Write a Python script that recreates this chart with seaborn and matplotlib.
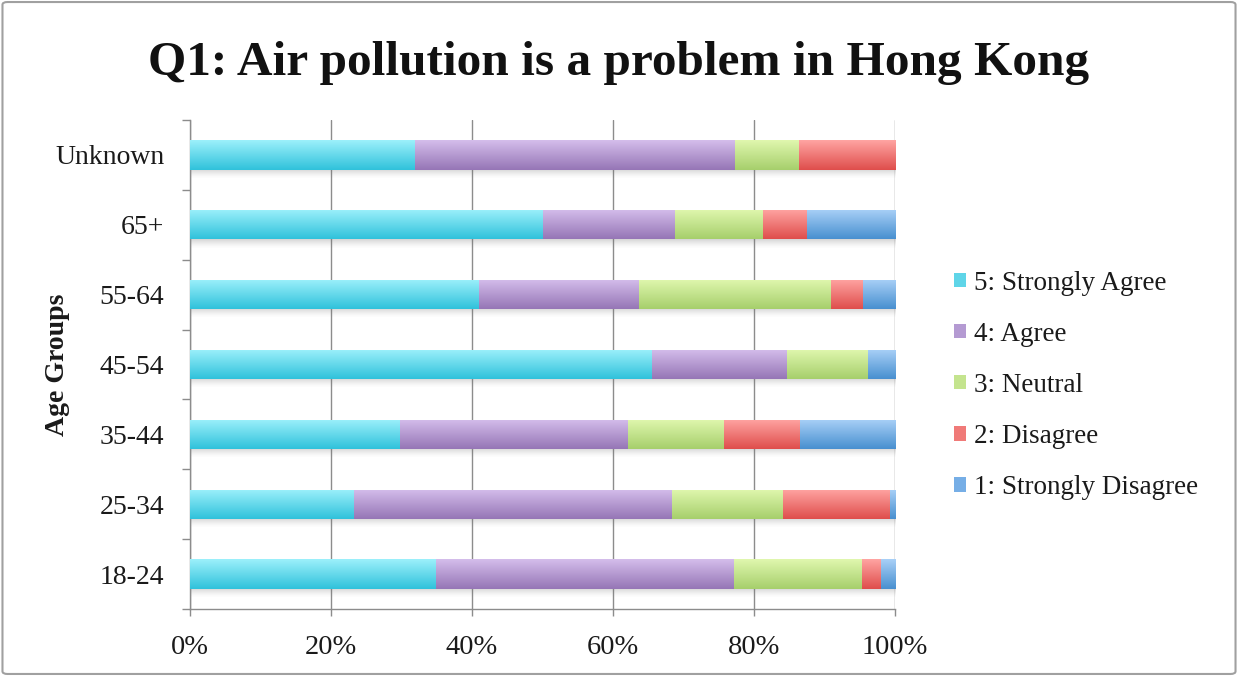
import numpy as np
import pandas as pd
import matplotlib
matplotlib.use("Agg")
import matplotlib.pyplot as plt
from matplotlib.colors import LinearSegmentedColormap
from matplotlib.patches import FancyBboxPatch
import seaborn as sns

# Survey responses (% of each age group)
age_groups = ["Unknown", "65+", "55-64", "45-54", "35-44", "25-34", "18-24"]
strongly_agree = [31.8, 50.0, 40.9, 65.4, 29.7, 23.2, 34.8]
agree = [45.4, 18.75, 22.7, 19.2, 32.4, 45.1, 42.3]
neutral = [9.1, 12.5, 27.3, 11.5, 13.5, 15.8, 18.1]
disagree = [13.7, 6.25, 4.5, 0.0, 10.8, 15.1, 2.8]
strongly_disagree = [0.0, 12.5, 4.6, 3.9, 13.6, 0.8, 2.0]

responses = ["5: Strongly Agree", "4: Agree", "3: Neutral", "2: Disagree", "1: Strongly Disagree"]
series = [strongly_agree, agree, neutral, disagree, strongly_disagree]

# (top, bottom) of each bar's vertical gradient
grad_colors = [("#9cf0fb", "#30c2db"),
               ("#d4bdeb", "#9676b6"),
               ("#e0f7ae", "#a6cf6c"),
               ("#ffa4a2", "#df4e4c"),
               ("#a9d0f7", "#4890d0")]
mid_colors = ["#5fd5e8", "#b49ad2", "#c4e48e", "#f07a78", "#76aee6"]

sns.set_theme(style="white")
plt.rcParams["font.family"] = ["Liberation Serif", "DejaVu Serif"]

fig = plt.figure(figsize=(12.38, 6.76), dpi=100)
ax = fig.add_axes([0.1535, 0.099, 0.5695, 0.7235])

df = pd.DataFrame({"age": age_groups})
cum = np.zeros(len(age_groups))
cums = []
for vals in series:
    cum = cum + np.array(vals)
    cums.append(cum.copy())

bar_width = 0.42

# Soft drop shadow under each full bar
shadow = np.zeros((32, 1, 4))
shadow[..., :3] = 0.45
shadow[:, 0, 3] = np.linspace(0.45, 0.0, 32) ** 1.5
for i, total in enumerate(cums[-1]):
    ax.imshow(shadow, aspect="auto", origin="upper",
              extent=(0, total, i + bar_width / 2 + 0.13, i + bar_width / 2),
              zorder=2, interpolation="bilinear")

# Stacked bars: draw cumulative totals from the widest down so each
# segment shows from the previous boundary to its own total.
for k in range(len(series) - 1, -1, -1):
    df["value"] = cums[k]
    n_before = len(ax.patches)
    sns.barplot(data=df, x="value", y="age", orient="h", color=mid_colors[k],
                saturation=1, width=bar_width, edgecolor="none", linewidth=0, ax=ax)
    new_patches = ax.patches[n_before:]
    z = 3 + 2 * (len(series) - k)
    cmap = LinearSegmentedColormap.from_list(f"g{k}", [grad_colors[k][0], grad_colors[k][1]])
    grad = np.linspace(0, 1, 64).reshape(-1, 1)
    for p in new_patches:
        p.set_zorder(z)
        x0, y0 = p.get_x(), p.get_y()
        w, h = p.get_width(), p.get_height()
        if w <= 0:
            continue
        im = ax.imshow(grad, cmap=cmap, aspect="auto", origin="upper",
                       extent=(x0, x0 + w, y0 + h, y0), zorder=z + 1,
                       interpolation="bilinear")
        im.set_clip_path(p)

ax.set_xlim(0, 100)
ax.set_ylim(len(age_groups) - 0.5, -0.5)

# Axis styling
ax.set_xticks(np.arange(0, 101, 20))
ax.set_xticklabels([f"{t}%" for t in range(0, 101, 20)])
ax.xaxis.grid(True, color="#8c8c8c", linewidth=1.0, zorder=0)
ax.set_axisbelow(True)
ax.set_yticks(np.arange(-0.5, len(age_groups), 1.0), minor=False)
ax.set_yticklabels([])
ax.set_yticks(np.arange(len(age_groups)), minor=True)
ax.set_yticklabels(age_groups, minor=True)
ax.tick_params(axis="y", which="major", length=6, width=1, color="#8c8c8c", direction="out", left=True)
ax.tick_params(axis="y", which="minor", length=0, labelsize=20, labelcolor="#1a1a1a", pad=18.5)
ax.tick_params(axis="x", which="major", length=5, width=1, color="#8c8c8c", direction="out", bottom=True,
               labelsize=20.5, labelcolor="#1a1a1a", pad=14)
for side in ["top", "right"]:
    ax.spines[side].set_visible(False)
for side in ["left", "bottom"]:
    ax.spines[side].set_color("#8c8c8c")
    ax.spines[side].set_linewidth(1.0)

ax.set_xlabel("")
ax.set_ylabel("Age Groups", fontsize=20, fontweight="bold", color="#1a1a1a")
ax.yaxis.set_label_coords(-0.170, 0.5)

fig.suptitle("Q1: Air pollution is a problem in Hong Kong", fontsize=35.5, fontweight="bold",
             y=0.94, color="#111111")

# Legend
handles = [plt.Rectangle((0, 0), 1, 1, facecolor=c, edgecolor="none") for c in mid_colors]
fig.legend(handles, responses, loc="center left", bbox_to_anchor=(0.751, 0.43),
           frameon=False, fontsize=19.5, handlelength=0.45, handleheight=0.45,
           handletextpad=0.3, labelspacing=0.965, labelcolor="#1a1a1a")

# Outer frame
frame = FancyBboxPatch((0.002, 0.003), 0.996, 0.994, boxstyle="round,pad=0,rounding_size=0.004",
                       transform=fig.transFigure, fill=False, edgecolor="#a0a0a0", linewidth=1.5)
fig.patches.append(frame)

fig.savefig("out.png", dpi=100)
